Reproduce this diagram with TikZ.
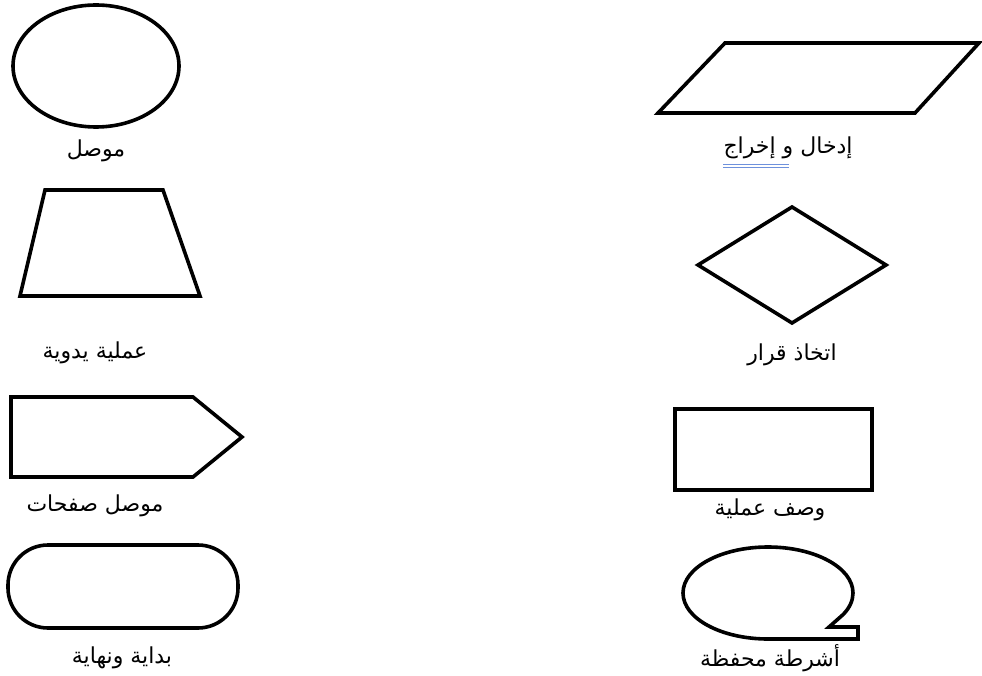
\documentclass[tikz,border=0pt]{standalone}
\usepackage{fontspec}
\newfontfamily\arabicfont[Script=Arabic]{DejaVu Sans}
\TeXXeTstate=1
\definecolor{spellblue}{RGB}{110,145,220}
\begin{document}
\begin{tikzpicture}[x=1pt,y=-1pt,
    shp/.style={line width=3.6pt, line join=miter},
    lbl/.style={font=\arabicfont\fontsize{22}{24}\selectfont, inner sep=1pt}]
  \useasboundingbox (0,0) rectangle (982,676);
  % left column
  \draw[shp] (96,66) ellipse [x radius=83, y radius=61];
  \node[lbl] (lconn) at (96,151) {\beginR موصل\endR};
  \draw[shp] (20,296) -- (45,190) -- (163,190) -- (200,296) -- cycle;
  \node[lbl] (lmanual) at (95,353) {\beginR عملية يدوية\endR};
  \draw[shp] (11,397) -- (193,397) -- (242,437) -- (193,477) -- (11,477) -- cycle;
  \node[lbl] (lpage) at (95,506) {\beginR موصل صفحات\endR};
  \draw[shp, rounded corners=40] (8,545) rectangle (238,628);
  \node[lbl] (lterm) at (122,658) {\beginR بداية ونهاية\endR};
  % right column
  \draw[shp] (658,113) -- (725,43) -- (979,43) -- (915,113) -- cycle;
  \node[lbl] (lio) at (788,148) {\beginR إدخال و إخراج\endR};
  \foreach \d in {-4,-7.5}
    \draw[spellblue, line width=1.3pt] ([xshift=1pt,yshift=\d pt]lio.south west) -- +(66,0);
  \draw[shp] (698,265) -- (792,207) -- (886,265) -- (792,323) -- cycle;
  \node[lbl] (ldec) at (792,355) {\beginR اتخاذ قرار\endR};
  \draw[shp] (675,409) rectangle (872,490);
  \node[lbl] (lproc) at (770,510) {\beginR وصف عملية\endR};
  \draw[shp] (768,639) arc [start angle=90, end angle=388, x radius=85, y radius=46]
    -- (829,627) -- (858,627) -- (858,639) -- cycle;
  \node[lbl] (ltape) at (770,658) {\beginR أشرطة محفظة\endR};
\end{tikzpicture}
\end{document}
